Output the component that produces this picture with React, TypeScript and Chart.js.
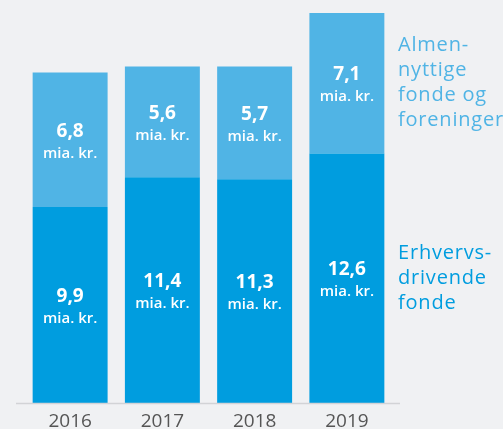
import React, { useEffect, useRef } from "react";
import { Chart, registerables } from "chart.js";

Chart.register(...registerables);

const years = ["2016", "2017", "2018", "2019"];
const erhvervsdrivende = [9.9, 11.4, 11.3, 12.6];
const almennyttige = [6.8, 5.6, 5.7, 7.1];
const topLabel = ["Almen-", "nyttige", "fonde og", "foreninger"];
const bottomLabel = ["Erhvervs-", "drivende", "fonde"];
const unitText = "mia. kr.";

const BG = "#f0f1f3";
const DARK = "#009ddf";
const LIGHT = "#50b4e5";
const FONT = "'Open Sans', sans-serif";

const fmt = (v: number) => v.toFixed(1).replace(".", ",");

export default function App() {
  const ref = useRef<HTMLCanvasElement | null>(null);

  useEffect(() => {
    document.body.style.margin = "0";
    document.body.style.background = BG;
    const canvas = ref.current;
    if (!canvas) return;

    const overlay = {
      id: "overlay",
      beforeDraw(chart: any) {
        const { ctx } = chart;
        ctx.save();
        ctx.fillStyle = BG;
        ctx.fillRect(0, 0, chart.width, chart.height);
        ctx.restore();
      },
      afterDatasetsDraw(chart: any) {
        const { ctx, chartArea } = chart;
        ctx.save();
        // baseline
        ctx.strokeStyle = "#d2d3d6";
        ctx.lineWidth = 1.5;
        ctx.beginPath();
        ctx.moveTo(16, chartArea.bottom + 0.5);
        ctx.lineTo(400, chartArea.bottom + 0.5);
        ctx.stroke();

        // value labels
        ctx.fillStyle = "#ffffff";
        ctx.textAlign = "center";
        ctx.textBaseline = "alphabetic";
        chart.data.datasets.forEach((ds: any, di: number) => {
          const meta = chart.getDatasetMeta(di);
          meta.data.forEach((bar: any, i: number) => {
            const c = (bar.y + bar.base) / 2;
            ctx.font = `bold 19px ${FONT}`;
            ctx.fillText(fmt(ds.data[i]), bar.x, c - 3);
            ctx.font = `600 15px ${FONT}`;
            ctx.fillText(unitText, bar.x, c + 18);
          });
        });

        // side labels, centered on the last bar's segments
        const sideLabels = [bottomLabel, topLabel];
        const sideColors = [DARK, LIGHT];
        ctx.textAlign = "left";
        ctx.textBaseline = "middle";
        ctx.font = `20px ${FONT}`;
        (ctx as any).letterSpacing = "0.8px";
        chart.data.datasets.forEach((_ds: any, di: number) => {
          const meta = chart.getDatasetMeta(di);
          const bar = meta.data[meta.data.length - 1];
          const c = (bar.y + bar.base) / 2;
          const lines = sideLabels[di];
          ctx.fillStyle = sideColors[di];
          lines.forEach((t: string, li: number) => {
            ctx.fillText(t, chartArea.right + 5, c + (li - (lines.length - 1) / 2) * 25);
          });
        });
        ctx.restore();
      },
    };

    const chart = new Chart(canvas, {
      type: "bar",
      data: {
        labels: years,
        datasets: [
          {
            label: "Erhvervsdrivende fonde",
            data: erhvervsdrivende,
            backgroundColor: DARK,
            borderWidth: 0,
          },
          {
            label: "Almennyttige fonde og foreninger",
            data: almennyttige,
            backgroundColor: LIGHT,
            borderWidth: 0,
          },
        ],
      },
      options: {
        responsive: false,
        animation: false,
        maintainAspectRatio: false,
        layout: { padding: { left: 24, right: 110, top: 13, bottom: 0 } },
        datasets: {
          bar: { categoryPercentage: 0.8125, barPercentage: 1 },
        },
        plugins: {
          legend: { display: false },
          tooltip: { enabled: false },
        },
        scales: {
          x: {
            stacked: true,
            grid: { display: false, drawTicks: false },
            border: { display: false },
            ticks: {
              color: "#555555",
              font: { family: "'Open Sans', sans-serif", size: 19 },
              padding: 7,
            },
            afterFit: (scale: any) => {
              scale.height = 26;
            },
          },
          y: {
            stacked: true,
            display: false,
            min: 0,
            max: 19.7,
          },
        },
      },
      plugins: [overlay],
    });

    return () => chart.destroy();
  }, []);

  return (
    <div style={{ width: 503, height: 429, background: BG }}>
      <canvas ref={ref} width={503} height={429} />
    </div>
  );
}
